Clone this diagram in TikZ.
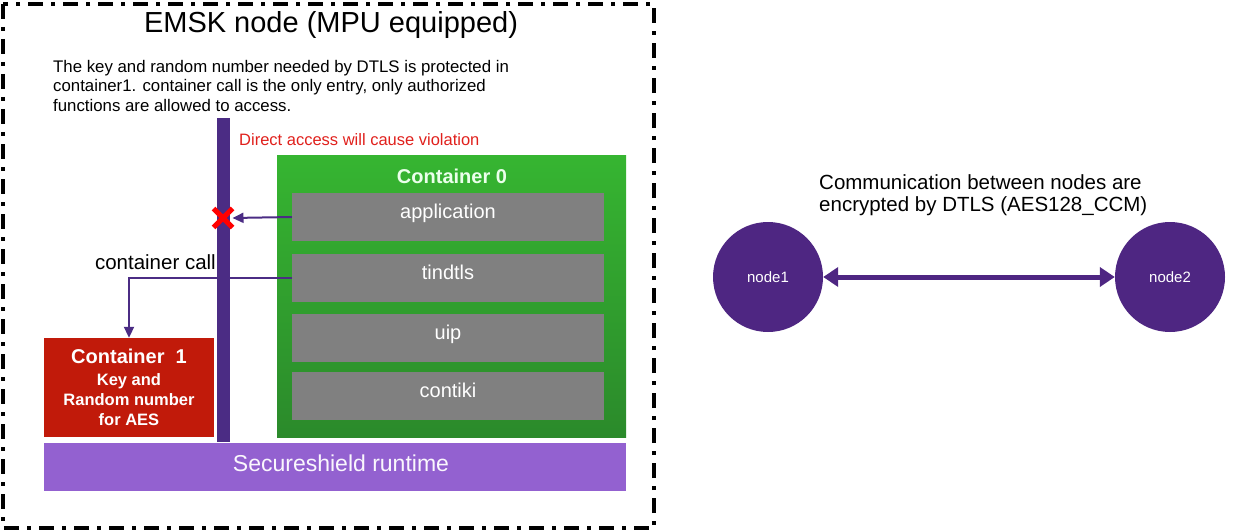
\documentclass[tikz,border=0pt]{standalone}
\usepackage{fontspec}
\setmainfont{Liberation Sans}
\usetikzlibrary{arrows.meta,shapes.misc}

\newcommand\fsize[2]{\fontsize{#1}{#2}\selectfont}
\definecolor{bar purple}{HTML}{4B2C84}
\definecolor{peer purple}{HTML}{4E2682}
\definecolor{green top}{HTML}{36B531}
\definecolor{green bottom}{HTML}{2B8A2B}
\definecolor{layer gray}{HTML}{808080}
\definecolor{key red}{HTML}{C11A0A}
\definecolor{runtime purple}{HTML}{9361D0}
\definecolor{warn red}{HTML}{E0201C}
\tikzset{border/.style={draw=black, line width=4pt, dash pattern=on 15pt off 8pt on 4pt off 8pt},
    layer/.style={fill=layer gray, text=white, minimum width=312pt, minimum height=48pt, inner sep=0pt,
        text height=15pt, text depth=12pt, font=\fsize{20}{24}},
    call/.style={draw=bar purple, line width=2pt, -{Triangle[length=11pt,width=10pt]}},
    peer/.style={circle, fill=peer purple, text=white, minimum size=110pt, inner sep=0pt, font=\fsize{15}{18}}}

\begin{document}
\begin{tikzpicture}[x=1pt,y=-1pt]
     \useasboundingbox (0,0) rectangle (1252,532);
     \draw[border] (3,4) rectangle (654,528);
     \node[font=\fsize{29}{34}] (title) at (331,25) {EMSK node (MPU equipped)};
     \node[anchor=north west, align=left, inner sep=0pt, font=\fsize{16.8}{19.5}] (note) at (53,60)
         {The key and random number needed by DTLS is protected in\\
          container1. container call is the only entry, only authorized\\
          functions are allowed to access.};
     % secure side
     \node[fill=bar purple, minimum width=13pt, minimum height=324pt, inner sep=0pt] (bar) at (223.5,280) {};
     \node[anchor=west, inner sep=0pt, text=warn red, font=\fsize{16.5}{20}] (warn) at (239,140) {Direct access will cause violation};
     \node[top color=green top, bottom color=green bottom, minimum width=349pt, minimum height=282pt, inner sep=0pt] (c0) at (451.5,296) {};
     \node[text=green!8, font=\bfseries\fsize{20}{24}] (c0label) at (452,176) {Container 0};
     \foreach \name/\y/\txt in {app/217/application, tindtls/278/tindtls, uip/338/uip, contiki/396/contiki}
         \node[layer] (\name) at (448,\y) {\txt};
     \node[fill=key red, text=white, align=center, minimum width=170pt, minimum height=99pt, inner sep=0pt,
         font=\bfseries\fsize{16.5}{20}] (c1) at (129,387.5)
         {{\fsize{20}{24}Container\ \ 1}\\[2pt]Key and\\Random number\\for AES};
     \node[fill=runtime purple, minimum width=582pt, minimum height=48pt, inner sep=0pt] (rt) at (335,467) {};
     \node[text=white!95!runtime purple, font=\fsize{23}{28}] (rtlabel) at (341,463) {Secureshield runtime};
     \node[cross out, draw=red, line width=5pt, minimum size=14pt, inner sep=0pt] (stop) at (223,218) {};
     \draw[call] (app.west) -- (stop.east);
     \draw[call] (tindtls.west) -| (c1.north);
     \node[anchor=south east, inner sep=0pt, font=\fsize{20.5}{24}] (calltext) at (216,270) {container call};
     % network side
     \node[peer] (node1) at (768,277) {node1};
     \node[peer] (node2) at (1170,277) {node2};
     \draw[draw=peer purple, line width=5pt, {Triangle[length=15pt,width=19pt]}-{Triangle[length=15pt,width=19pt]}] (node1) -- (node2);
     \node[anchor=west, align=left, inner sep=0pt, font=\fsize{20.5}{22}] (comm) at (819,195)
         {Communication between nodes are\\encrypted by DTLS (AES128\_CCM)};
 \end{tikzpicture}
\end{document}
